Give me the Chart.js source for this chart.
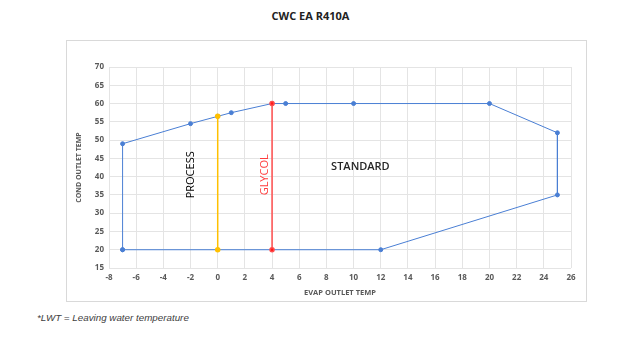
<!DOCTYPE html>
<html>
<head>
<meta charset="utf-8">
<script src="https://cdn.jsdelivr.net/npm/chart.js@4"></script>
<style>
    body { margin: 0; background: #fff; width: 621px; height: 343px; position: relative; font-family: 'Open Sans', sans-serif; }
    #title { position: absolute; top: 8px; left: 0; width: 621px; text-align: center; font-size: 11px; font-weight: bold; color: #222; }
    #box { position: absolute; left: 66px; top: 40px; width: 521px; height: 262px; border: 1px solid #d9d9d9; box-sizing: border-box; }
    #note { position: absolute; left: 37px; top: 312px; font-family: 'Liberation Sans', Arial, sans-serif; font-style: italic; font-size: 9.8px; color: #404040; }
</style>
</head>
<body>
<div id="title">CWC EA R410A</div>
<div id="box"><canvas id="chart"></canvas></div>
<div id="note">*LWT = Leaving water temperature</div>
<script>
// Operating envelope (evap outlet temp vs cond outlet temp)
const outlineX = [-7, -7, -2, 0, 1, 4, 5, 10, 20, 25, 25, 12, -7];
const outlineY = [20, 49, 54.5, 56.5, 57.5, 60, 60, 60, 60, 52, 35, 20, 20];
const processX = [0, 0];
const processY = [20, 56.5];
const glycolX = [4, 4];
const glycolY = [20, 60];

// Region labels
const regionNames = ['PROCESS', 'GLYCOL', 'STANDARD'];
const regionX = [-2, 3.5, 10.5];
const regionY = [40.5, 40.5, 42.6];
const regionColors = ['#000000', '#ff3b3b', '#262626'];
const regionRotated = [true, true, false];

const xTicks = [-8, -6, -4, -2, 0, 2, 4, 6, 8, 10, 12, 14, 16, 18, 20, 22, 24, 26];
const yTicks = [15, 20, 25, 30, 35, 40, 45, 50, 55, 60, 65, 70];

const toPoints = (xs, ys) => xs.map((x, i) => ({ x: x, y: ys[i] }));

const regionLabels = {
    id: 'regionLabels',
    afterDatasetsDraw(chart) {
        const ctx = chart.ctx;
        const xs = chart.scales.x, ys = chart.scales.y;
        regionNames.forEach((name, i) => {
            const px = xs.getPixelForValue(regionX[i]);
            const py = ys.getPixelForValue(regionY[i]);
            ctx.save();
            ctx.translate(px, py);
            if (regionRotated[i]) ctx.rotate(-Math.PI / 2);
            ctx.fillStyle = regionColors[i];
            ctx.font = (regionRotated[i] ? '' : '600 ') + '11px "Open Sans"';
            ctx.textAlign = 'center';
            ctx.textBaseline = 'middle';
            ctx.fillText(name, 0, 0);
            ctx.restore();
        });
    }
};

const tickFont = { family: 'Open Sans', size: 8, weight: 'bold' };

new Chart(document.getElementById('chart'), {
    type: 'scatter',
    data: {
        datasets: [
            {
                data: toPoints(glycolX, glycolY),
                showLine: true,
                borderColor: '#ff4d4d',
                backgroundColor: '#ff1a1a',
                borderWidth: 1.5,
                pointRadius: 2,
                order: 1
            },
            {
                data: toPoints(processX, processY),
                showLine: true,
                borderColor: '#ffc000',
                backgroundColor: '#ffc000',
                borderWidth: 1.5,
                pointRadius: 2,
                order: 2
            },
            {
                data: toPoints(outlineX, outlineY),
                showLine: true,
                borderColor: '#4a7fd4',
                backgroundColor: '#4a7fd4',
                borderWidth: 1,
                pointRadius: 2,
                order: 3
            }
        ]
    },
    options: {
        responsive: true,
        maintainAspectRatio: false,
        animation: false,
        layout: { padding: { left: 8, right: 15, top: 26, bottom: 4 } },
        plugins: {
            legend: { display: false },
            tooltip: { enabled: false }
        },
        scales: {
            x: {
                type: 'linear',
                min: xTicks[0],
                max: xTicks[xTicks.length - 1],
                afterBuildTicks: s => { s.ticks = xTicks.map(v => ({ value: v })); },
                afterFit: s => { s.height = 29; },
                grid: { color: '#e4e4e4', drawTicks: false },
                border: { display: false },
                ticks: { color: '#595959', font: tickFont, padding: 5, maxRotation: 0 },
                title: { display: true, text: 'EVAP OUTLET TEMP', color: '#595959', font: { family: 'Open Sans', size: 7.5, weight: 'bold' }, padding: 0 }
            },
            y: {
                type: 'linear',
                min: yTicks[0],
                max: yTicks[yTicks.length - 1],
                afterBuildTicks: s => { s.ticks = yTicks.map(v => ({ value: v })); },
                afterFit: s => { s.width = 34; },
                grid: { color: '#e4e4e4', drawTicks: false },
                border: { display: false },
                ticks: { color: '#595959', font: tickFont, padding: 5 },
                title: { display: true, text: 'COND OUTLET TEMP', color: '#595959', font: { family: 'Open Sans', size: 7, weight: 'bold' }, padding: { top: 0, bottom: 2 } }
            }
        }
    },
    plugins: [regionLabels]
});
</script>
</body>
</html>
